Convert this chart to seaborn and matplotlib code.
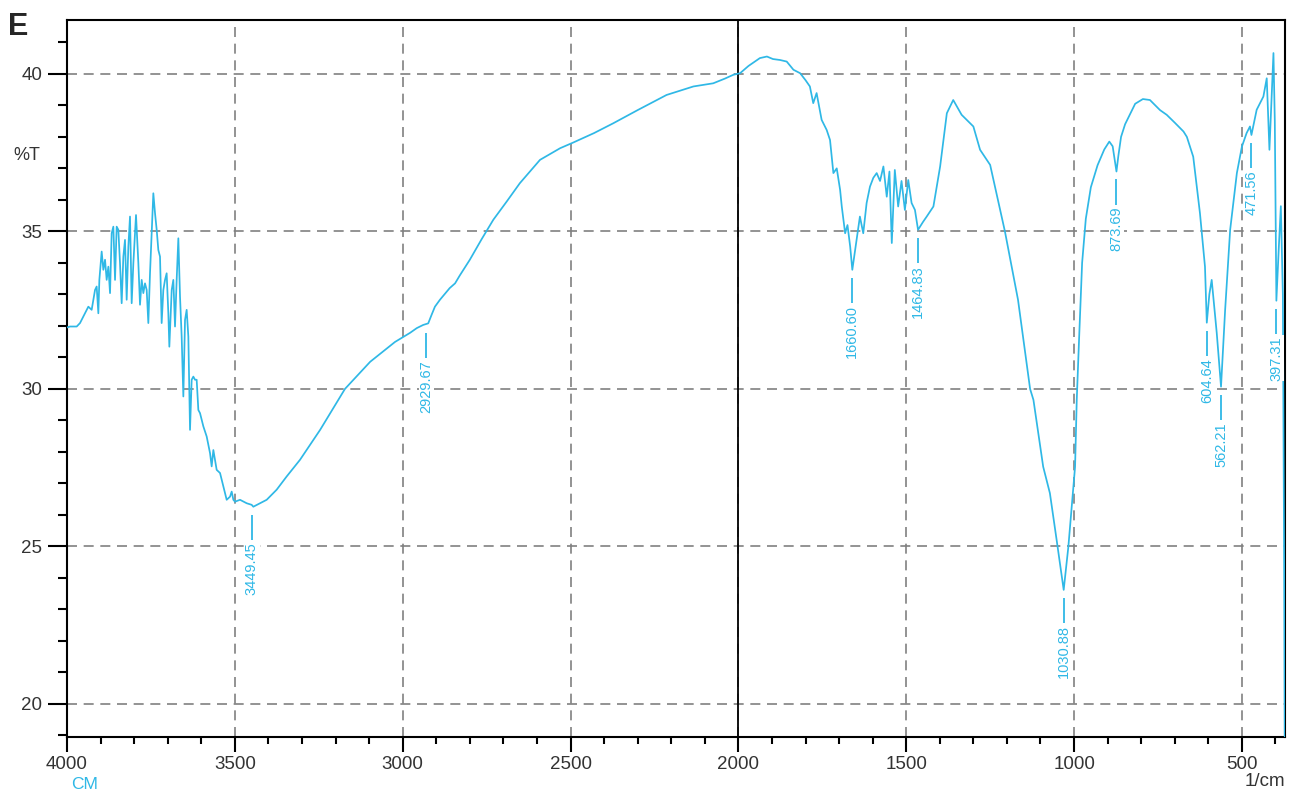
import matplotlib
matplotlib.use("Agg")
import matplotlib.pyplot as plt
import pandas as pd
import seaborn as sns
from matplotlib.ticker import MultipleLocator

# FTIR spectrum (wavenumber in 1/cm, %T)
WAVENUMBER = [
    4000, 3991.1, 3971.2, 3961.3, 3946.4, 3936.5, 3926.6, 3916.6, 3911.7, 3906.7,
    3903.7, 3896.8, 3891.8, 3886.8, 3881.9, 3876.9, 3871.9, 3867.0, 3862.0, 3857.0,
    3852.1, 3847.1, 3842.2, 3837.2, 3832.2, 3827.3, 3822.3, 3817.3, 3812.4, 3807.4,
    3802.4, 3794.5, 3787.5, 3782.6, 3777.6, 3772.7, 3767.7, 3762.7, 3757.8, 3752.8,
    3747.8, 3742.9, 3737.9, 3732.9, 3728.0, 3723.0, 3718.1, 3713.1, 3708.1, 3703.2,
    3698.2, 3695.2, 3688.2, 3683.3, 3678.3, 3673.4, 3668.4, 3663.4, 3658.5, 3653.5,
    3648.5, 3643.6, 3638.6, 3633.6, 3628.7, 3623.7, 3618.7, 3613.8, 3608.8, 3603.8,
    3593.9, 3584.0, 3574.0, 3569.1, 3564.1, 3559.1, 3554.2, 3544.2, 3534.3, 3524.4,
    3514.4, 3509.5, 3504.5, 3499.5, 3484.7, 3464.8, 3449.9, 3445.0, 3425.1, 3405.2,
    3375.5, 3345.7, 3305.9, 3246, 3172, 3097, 3023, 2978, 2958, 2939,
    2924, 2914, 2904, 2889, 2860, 2844, 2830, 2800, 2765, 2730,
    2690, 2651, 2591, 2531, 2492, 2430, 2373, 2300, 2214, 2170,
    2134, 2075, 2040, 2015, 1995, 1970, 1936, 1915, 1897, 1876,
    1856, 1836, 1816, 1800, 1787, 1777, 1767, 1752, 1737, 1727,
    1717, 1707, 1697, 1692, 1682, 1675, 1667, 1660.6, 1648, 1638,
    1628, 1618, 1608, 1598, 1588, 1578, 1568, 1558, 1550, 1543,
    1534, 1524, 1514, 1504, 1494, 1484, 1474, 1464.8, 1450, 1439,
    1419, 1399, 1379, 1360, 1335, 1300, 1280, 1250, 1206, 1167,
    1131, 1121, 1092, 1072, 1052, 1030.9, 1017, 997, 992, 985,
    976, 965, 950, 930, 910, 895, 885, 878, 873.7, 868,
    860, 848, 818, 795, 774, 744, 724, 700, 674, 664,
    645, 625, 610, 604.6, 597, 590, 575, 562.2, 550, 535,
    515, 500, 486, 476, 471.6, 465, 456, 436, 426, 418,
    406, 402, 397.3, 390, 384, 378, 374, 371,
]
TRANSMITTANCE = [
    31.95, 31.98, 31.98, 32.09, 32.40, 32.61, 32.51, 33.14, 33.25, 32.40,
    33.46, 34.36, 33.78, 34.10, 33.46, 33.88, 33.04, 34.94, 35.15, 33.46,
    35.15, 35.05, 33.99, 32.72, 34.20, 34.73, 32.83, 34.52, 35.47, 32.72,
    33.99, 35.52, 33.99, 32.67, 33.46, 33.04, 33.35, 33.14, 32.09, 33.67,
    34.94, 36.21, 35.58, 35.05, 34.41, 34.20, 32.09, 33.14, 33.46, 33.67,
    32.40, 31.34, 33.14, 33.46, 31.98, 33.46, 34.78, 32.93, 31.66, 29.76,
    32.19, 32.51, 31.66, 28.70, 30.29, 30.39, 30.29, 30.29, 29.33, 29.23,
    28.81, 28.49, 27.96, 27.54, 28.06, 27.75, 27.43, 27.33, 26.90, 26.48,
    26.58, 26.74, 26.48, 26.42, 26.48, 26.37, 26.32, 26.26, 26.37, 26.48,
    26.80, 27.22, 27.75, 28.70, 30.00, 30.86, 31.49, 31.78, 31.93, 32.03,
    32.08, 32.35, 32.61, 32.83, 33.20, 33.35, 33.60, 34.10, 34.75, 35.37,
    35.95, 36.53, 37.27, 37.64, 37.82, 38.12, 38.43, 38.85, 39.33, 39.48,
    39.60, 39.70, 39.85, 39.97, 40.02, 40.25, 40.50, 40.55, 40.47, 40.44,
    40.39, 40.13, 40.02, 39.80, 39.60, 39.07, 39.39, 38.54, 38.22, 37.90,
    36.85, 37.00, 36.32, 35.79, 34.94, 35.20, 34.52, 33.78, 34.73, 35.47,
    34.94, 35.90, 36.42, 36.70, 36.85, 36.60, 37.06, 36.10, 36.90, 34.63,
    36.95, 35.79, 36.60, 35.68, 36.63, 35.90, 35.68, 35.05, 35.30, 35.47,
    35.79, 37.06, 38.75, 39.17, 38.70, 38.33, 37.59, 37.11, 35.00, 32.83,
    30.00, 29.65, 27.53, 26.69, 25.21, 23.62, 24.99, 27.53, 29.65, 31.60,
    34.00, 35.40, 36.40, 37.10, 37.60, 37.85, 37.70, 37.20, 36.90, 37.40,
    38.00, 38.40, 39.05, 39.20, 39.17, 38.85, 38.70, 38.45, 38.17, 38.00,
    37.37, 35.58, 33.88, 32.10, 33.00, 33.46, 31.78, 30.07, 32.50, 35.05,
    36.85, 37.69, 38.12, 38.33, 38.06, 38.40, 38.86, 39.28, 39.86, 37.59,
    40.66, 38.50, 32.80, 34.50, 35.80, 33.00, 24.00, 15.00,
]

PEAK_WN = [3449.45, 2929.67, 1660.60, 1464.83, 1030.88, 873.69, 604.64, 562.21, 471.56, 397.31]
PEAK_T = [26.26, 32.03, 33.78, 35.05, 23.62, 36.90, 32.10, 30.07, 38.06, 32.80]

X_TICKS = [4000, 3500, 3000, 2500, 2000, 1500, 1000, 500]
Y_TICKS = [20, 25, 30, 35, 40]

LINE_COLOR = "#2fb8e6"
GRID_COLOR = "#808080"

sns.set_style("white")
plt.rcParams["font.family"] = ["Liberation Sans", "DejaVu Sans"]

fig = plt.figure(figsize=(12.94, 7.96), dpi=100)
ax = fig.add_axes([0.0518, 0.0741, 0.9413, 0.9008])

df = pd.DataFrame({"wn": WAVENUMBER, "t": TRANSMITTANCE})
sns.lineplot(data=df, x="wn", y="t", sort=False, estimator=None,
             color=LINE_COLOR, lw=1.25, ax=ax, zorder=3)

ax.set_xlim(4000, 371.4)
ax.set_ylim(18.95, 41.71)
ax.set_xticks(X_TICKS)
ax.set_yticks(Y_TICKS)
ax.xaxis.set_minor_locator(MultipleLocator(100))
ax.yaxis.set_minor_locator(MultipleLocator(1))
ax.set_xlabel("")
ax.set_ylabel("")

ax.grid(True, which="major", color=GRID_COLOR, linestyle=(0, (6, 4)), lw=1.2)
ax.axvline(2000, color="black", lw=1.3, zorder=2)

for side in ["left", "bottom", "top", "right"]:
    ax.spines[side].set_color("black")
    ax.spines[side].set_linewidth(1.5)

ax.tick_params(axis="y", which="major", direction="out", length=14, width=1.5,
               color="black", labelcolor="#333333", labelsize=13.5, pad=4)
ax.tick_params(axis="y", which="minor", direction="out", length=6.5, width=1.5, color="black")
ax.tick_params(axis="x", which="major", direction="out", length=11, width=1.5,
               color="black", labelcolor="#333333", labelsize=13.5, pad=3)
ax.tick_params(axis="x", which="minor", direction="out", length=5, width=1.5, color="black")
ax.tick_params(left=True, bottom=True, which="both")

# peak markers: short tick under each band, then the rotated wavenumber
for wn, t in zip(PEAK_WN, PEAK_T):
    ax.vlines(wn, t - 1.05, t - 0.25, color=LINE_COLOR, lw=1.3, zorder=4)
    ax.text(wn, t - 1.12, f"{wn:.2f}", rotation=90, ha="center", va="top",
            color=LINE_COLOR, fontsize=10.5, zorder=4,
            bbox=dict(facecolor="white", edgecolor="none", pad=0.5))

fig.text(0.006, 0.985, "E", fontsize=22, fontweight="bold", va="top", ha="left")
fig.text(0.021, 0.805, "%T", fontsize=13, color="#333333", ha="center", va="center")
fig.text(0.065, 0.014, "CM", fontsize=12.5, color=LINE_COLOR, ha="center", va="center")
fig.text(0.993, 0.018, "1/cm", fontsize=13.5, color="#333333", ha="right", va="center")

fig.savefig("out.png", dpi=100)
